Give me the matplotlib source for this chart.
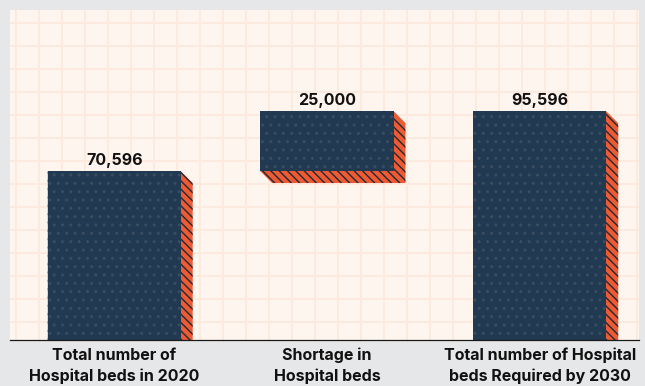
import matplotlib
matplotlib.use("Agg")
import matplotlib.pyplot as plt
from matplotlib.patches import Polygon, Rectangle
from matplotlib.lines import Line2D

categories = ["Total number of\nHospital beds in 2020",
              "Shortage in\nHospital beds",
              "Total number of Hospital\nbeds Required by 2030"]
beds_2020 = 70596
shortage = 25000
values = [beds_2020, shortage, beds_2020 + shortage]
bottoms = [0, beds_2020, 0]
value_labels = ["70,596", "25,000", "95,596"]

W, H = 645, 386
fig = plt.figure(figsize=(W / 100, H / 100), dpi=100, facecolor="#e6e7e9")
plt.rcParams["font.family"] = ["Inter", "DejaVu Sans"]

left_px, right_px, top_px, axis_px = 10, 639, 10, 340.3
ax = fig.add_axes([left_px / W, (H - axis_px) / H,
                   (right_px - left_px) / W, (axis_px - top_px) / H])
ax.set_facecolor("#fff5ef")

spacing_px = 212.75
x0_px = 114.35
xmin = (left_px - x0_px) / spacing_px
xmax = (right_px - x0_px) / spacing_px
ymax = 138000
ax.set_xlim(xmin, xmax)
ax.set_ylim(0, ymax)

# background grid in pixel spacing (decorative)
grid_c = "#fde9dd"
ax_w = right_px - left_px
ax_h = axis_px - top_px
gx = 16.0
while gx < right_px:
    f = (gx - left_px) / ax_w
    ax.add_line(Line2D([f, f], [0, 1], transform=ax.transAxes, color=grid_c, lw=1.3, zorder=0.5))
    gx += 23.0
gy = 22.7
while gy < axis_px - 5:
    f = (axis_px - gy) / ax_h
    ax.add_line(Line2D([0, 1], [f, f], transform=ax.transAxes, color=grid_c, lw=1.3, zorder=0.5))
    gy += 23.0

bar_w = 133.3 / spacing_px
dx = 11.7 / spacing_px
dy = 11.7 * ymax / ax_h

navy = "#213a52"
orange = "#ef5a32"
stripe = "#1e2b38"

for i, (v, b, lab) in enumerate(zip(values, bottoms, value_labels)):
    xl = i - bar_w / 2
    xr = i + bar_w / 2
    top = b + v
    bot = b
    if bot > 0:
        verts = [(xl, top), (xr, top), (xr + dx, top - dy), (xr + dx, bot - dy),
                 (xl + dx, bot - dy), (xl, bot)]
    else:
        verts = [(xl, top), (xr, top), (xr + dx, top - dy), (xr + dx, 0), (xl, 0)]
    ext = Polygon(verts, closed=True, facecolor=orange, edgecolor=stripe,
                  hatch="\\\\\\\\", lw=0, zorder=2)
    ax.add_patch(ext)
    face = Rectangle((xl, bot), bar_w, v, facecolor=navy, edgecolor="#3a4d60",
                     hatch="..", lw=0, zorder=3)
    ax.add_patch(face)
    ax.annotate(lab, (i, top), xytext=(0, 4.8), textcoords="offset points",
                ha="center", va="baseline", fontsize=11.5, fontweight="bold",
                color="#111111", zorder=5)

for s in ["top", "left", "right"]:
    ax.spines[s].set_visible(False)
ax.spines["bottom"].set_color("#1a1a1a")
ax.spines["bottom"].set_linewidth(0.9)
ax.spines["bottom"].set_zorder(6)
ax.set_yticks([])
ax.set_xticks(range(len(categories)))
ax.set_xticklabels(categories, fontsize=11.5, fontweight="bold", color="#111111",
                   linespacing=1.45)
ax.tick_params(axis="x", length=0, pad=5.2)

fig.savefig("out.png", dpi=100, facecolor=fig.get_facecolor())
